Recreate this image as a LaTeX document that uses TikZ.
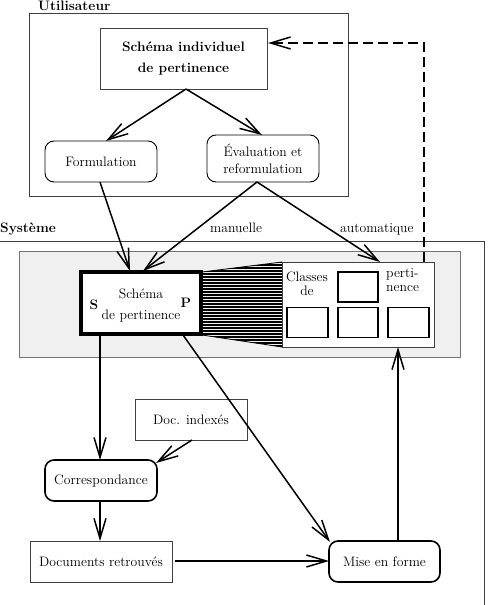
\documentclass[tikz,border=0pt]{standalone}
\usetikzlibrary{arrows.meta}
\begin{document}
\begin{tikzpicture}[x=1pt,y=-1pt,
  txt/.style={font=\fontsize{13.7}{16.5}\selectfont},
  thinbox/.style={draw=black!75,line width=0.8pt,txt,align=center,inner sep=0pt},
  rbox/.style={draw,rounded corners=9pt,line width=0.9pt,txt,align=center,inner sep=0pt},
  rboxthick/.style={draw,rounded corners=9pt,line width=1.6pt,txt,align=center,inner sep=0pt},
  classbox/.style={draw,line width=1.6pt,minimum width=40pt,minimum height=30pt,inner sep=0pt},
  lbl/.style={txt,inner sep=0pt},
  arr/.style={line width=1.5pt,-{Straight Barb[length=20pt,width=12pt,line width=1.5pt]}},
]
\useasboundingbox (0,0) rectangle (489,605);

% Utilisateur
\node[lbl,font=\fontsize{13.7}{16.5}\selectfont\bfseries,anchor=base west] (utl) at (38,10.5) {Utilisateur};
\draw[draw=black!75,line width=0.9pt] (29,13) rectangle (348,196);
\node[thinbox,minimum width=167pt,minimum height=61pt,font=\fontsize{13.7}{21}\selectfont\bfseries] (schind) at (183.5,58.5) {Schéma individuel\\de pertinence};
\node[rbox,minimum width=112pt,minimum height=41pt] (formul) at (101,161.5) {Formulation};
\node[rbox,minimum width=112pt,minimum height=47pt,font=\fontsize{13.7}{17}\selectfont] (eval) at (263,158.5) {Évaluation et\\reformulation};

% Systeme
\node[lbl,font=\fontsize{13.7}{16.5}\selectfont\bfseries,anchor=base west] (sys) at (0,232.5) {Système};
\draw[draw=black!75,line width=0.9pt] (0,241) -- (484,241) -- (484,605);
\node[lbl,anchor=base west] (man) at (210,232.5) {manuelle};
\node[lbl,anchor=base west] (auto) at (340,232.5) {automatique};

\draw[draw=black!55,fill=black!6,line width=0.8pt] (19,251) rectangle (460,357);

% hatched trapezoid
\begin{scope}
  \clip (202,272) -- (282,262) -- (282,347) -- (202,335) -- cycle;
  \foreach \yy in {262,265,...,347} {\draw[line width=1.7pt] (200,\yy) -- (284,\yy);}
\end{scope}
\draw[line width=0.8pt] (202,272) -- (282,262);
\draw[line width=0.8pt] (202,335) -- (282,347);

% classes box
\node[draw=black!75,fill=white,line width=0.8pt,minimum width=152pt,minimum height=85pt,inner sep=0pt] (cls) at (358,304.5) {};
\node[lbl,align=center,font=\fontsize{13.7}{14}\selectfont] (clstxt) at (307,284) {Classes\\de};
\node[lbl,align=left,font=\fontsize{13.7}{14}\selectfont,anchor=north west] (pertxt) at (386,268) {perti-\\nence};
\node[classbox] (c1) at (358,287) {};
\node[classbox,minimum width=41pt] (c2) at (307.5,322.5) {};
\node[classbox] (c3) at (358,322.5) {};
\node[classbox,minimum width=41pt] (c4) at (408.5,322.5) {};

% Schema de pertinence
\node[draw,fill=white,line width=4pt,minimum width=120pt,minimum height=62pt,inner sep=0pt] (sp) at (141,303) {};
\node[lbl,align=center,font=\fontsize{13.7}{21}\selectfont] (sptxt) at (141,305.5) {Schéma\\de pertinence};
\node[lbl,font=\fontsize{13.7}{16.5}\selectfont\bfseries] (spS) at (94,305) {S};
\node[lbl,font=\fontsize{13.7}{16.5}\selectfont\bfseries] (spP) at (186,303) {P};

% lower nodes
\node[thinbox,minimum width=112pt,minimum height=41pt] (doc) at (191,419.5) {Doc. indexés};
\node[rboxthick,minimum width=112pt,minimum height=41pt] (corr) at (101,480.5) {Correspondance};
\node[thinbox,minimum width=142pt,minimum height=41pt] (docret) at (101,561.5) {Documents retrouvés};
\node[rboxthick,minimum width=111pt,minimum height=41pt] (mise) at (384.5,561.5) {Mise en forme};

% coordinates
\coordinate (schindS) at (186,89);
\coordinate (formN) at (106,141);
\coordinate (evalN) at (262,135);
\coordinate (formS) at (100,182);
\coordinate (evalS) at (257,182);
\coordinate (spN1) at (130,271);
\coordinate (spN2) at (143,271);
\coordinate (clsN) at (380,262);
\coordinate (dashA) at (424,262);
\coordinate (dashB) at (424,43);
\coordinate (schindE) at (268,43);
\coordinate (spS1) at (100,335);
\coordinate (spS2) at (183,335);
\coordinate (corrN) at (100,460);
\coordinate (miseNW) at (330,542);
\coordinate (docS) at (192,440);
\coordinate (corrNE) at (156,463);
\coordinate (corrS) at (100,501);
\coordinate (docretN) at (100,541);
\coordinate (docretE) at (175,561);
\coordinate (miseW) at (329,561);
\coordinate (miseN) at (398,541);
\coordinate (clsS) at (398,347);

% arrows
\draw[arr] (schindS) -- (formN);
\draw[arr] (schindS) -- (evalN);
\draw[arr] (formS) -- (spN1);
\draw[arr] (evalS) -- (spN2);
\draw[arr] (evalS) -- (clsN);
\draw[arr,dash pattern=on 10pt off 5pt] (dashA) -- (dashB) -- (schindE);
\draw[arr] (spS1) -- (corrN);
\draw[arr] (spS2) -- (miseNW);
\draw[arr] (docS) -- (corrNE);
\draw[arr] (corrS) -- (docretN);
\draw[arr] (docretE) -- (miseW);
\draw[arr] (miseN) -- (clsS);
\end{tikzpicture}
\end{document}
